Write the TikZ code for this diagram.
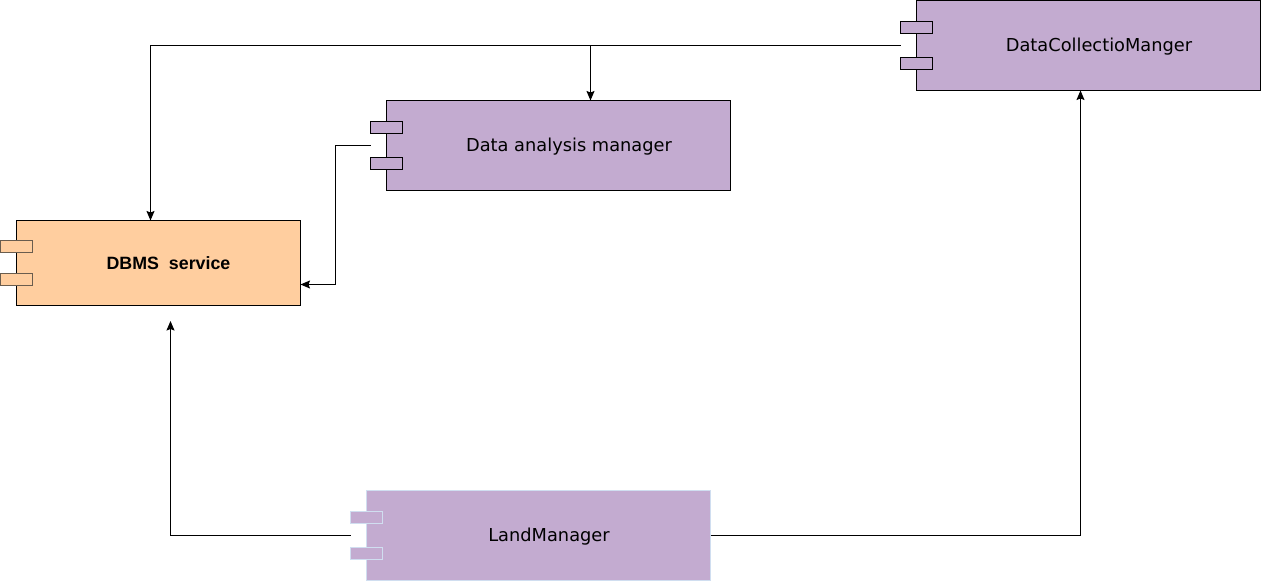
\documentclass[tikz,border=0pt]{standalone}
\usepackage{fontspec}
\setmainfont{DejaVu Sans}
\newfontfamily\dbmsfont{Liberation Sans}
\usetikzlibrary{arrows.meta,calc}
\definecolor{purplefill}{HTML}{C3ABD0}
\definecolor{orangefill}{HTML}{FFCE9F}
\definecolor{paleedge}{HTML}{D0DEF0}
\definecolor{dimedge}{HTML}{6A5D4E}
\tikzset{
  x=1pt,y=-1pt,
  comp/.style={draw=#1,line width=1pt,anchor=north west,inner sep=0pt,outer sep=0pt},
  pin/.style={draw=#1,line width=1pt,anchor=north west,inner sep=0pt,outer sep=0pt,minimum width=32pt,minimum height=12pt},
  lbl/.style={font=\fontsize{17.8}{21}\selectfont,text=black,inner sep=0pt},
  conn/.style={draw=black,line width=1pt,-{Stealth[length=9.5pt,width=8pt,inset=1.5pt]}}
}
\begin{document}
\begin{tikzpicture}
\useasboundingbox (0,0) rectangle (1261,581);
% DataCollectioManger
\node[comp=black,fill=purplefill,minimum width=344pt,minimum height=90pt] (dc) at (916.5,0.5) {};
\node[pin=black,fill=purplefill] (dcpa) at (900.5,21.5) {};
\node[pin=black,fill=purplefill] (dcpb) at (900.5,57.5) {};
\node[lbl] (dct) at (1099,46.5) {DataCollectioManger};
% Data analysis manager
\node[comp=black,fill=purplefill,minimum width=344pt,minimum height=90pt] (da) at (386.5,100.5) {};
\node[pin=black,fill=purplefill] (dapa) at (370.5,121.5) {};
\node[pin=black,fill=purplefill] (dapb) at (370.5,157.5) {};
\node[lbl] (dat) at (569,146.5) {Data analysis manager};
% DBMS service
\node[comp=black,fill=orangefill,minimum width=284pt,minimum height=85pt] (db) at (16.5,220.5) {};
\node[pin=dimedge,fill=orangefill] (dbpa) at (0.5,240) {};
\node[pin=dimedge,fill=orangefill] (dbpb) at (0.5,273.5) {};
\node[lbl,font=\dbmsfont\bfseries\fontsize{17.8}{21}\selectfont] (dbt) at (168.5,263.5) {DBMS\hspace{5pt} service};
% LandManager
\node[comp=paleedge,fill=purplefill,minimum width=344pt,minimum height=90pt] (lm) at (366.5,490.5) {};
\node[pin=paleedge,fill=purplefill] (lmpa) at (350.5,511.5) {};
\node[pin=paleedge,fill=purplefill] (lmpb) at (350.5,547.5) {};
\node[lbl] (lmt) at (549,536.5) {LandManager};
% connector ends
\coordinate (dcport) at (900.5,45.5);
\coordinate (daport) at (370.5,145.5);
\coordinate (lmport) at (350.5,535.5);
\coordinate (dbfree) at (170.5,321);
\coordinate (branch) at (590.5,45.5);
\coordinate (dbtop) at (150.5,220.5);
\coordinate (datop) at (590.5,100.5);
\coordinate (dbright) at (300.5,284.5);
\coordinate (dcbottom) at (1080.5,90.5);
% connectors
\draw[conn] (dcport) -- (150.5,45.5) -- (dbtop);
\draw[conn] (branch) -- (datop);
\draw[conn] (daport) -- (335.5,145.5) -- (335.5,284.5) -- (dbright);
\draw[conn] (lmport) -- (170.5,535.5) -- (dbfree);
\draw[conn] (lm.east |- lmport) -- (1080.5,535.5) -- (dcbottom);
\end{tikzpicture}
\end{document}
